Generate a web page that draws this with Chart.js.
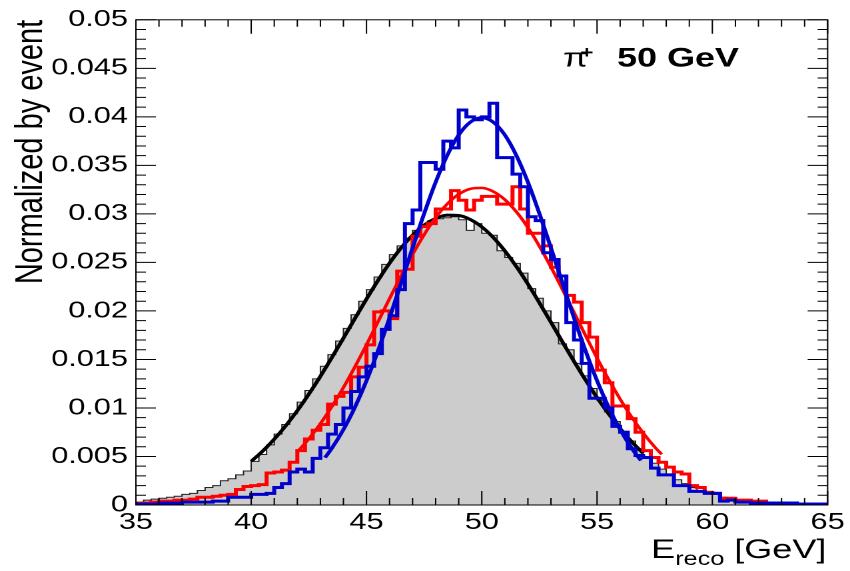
<!DOCTYPE html>
<html lang="en">
<head>
<meta charset="UTF-8">
<title>E reco - pi+ 50 GeV</title>
<script src="https://cdn.jsdelivr.net/npm/chart.js"></script>
<style>
  html, body { margin: 0; padding: 0; background: #fff; overflow: hidden; }
  /* the original picture is stretched sideways, so draw narrow and widen it */
  #wrap { width: 638px; height: 571px; transform: scaleX(1.3323); transform-origin: 0 0; }
</style>
</head>
<body>
<div id="wrap"><canvas id="ereco" width="638" height="571"></canvas></div>
<script>
// histogram binning (GeV)
const xMin = 35;
const xMax = 65;
const binWidth = 1 / 3;

// normalized entries per bin, 90 bins from 35 to 65 GeV
const grayValues = [
  0.0003, 0.0005, 0.0006, 0.0007, 0.0008, 0.0009, 0.0011, 0.0012, 0.0015, 0.0018,
  0.0020, 0.0025, 0.0027, 0.0031, 0.0035, 0.0045, 0.0052, 0.0062, 0.0073, 0.0083,
  0.0094, 0.0106, 0.0118, 0.0130, 0.0143, 0.0155, 0.0169, 0.0182, 0.0196, 0.0210,
  0.0222, 0.0235, 0.0248, 0.0258, 0.0267, 0.0275, 0.0283, 0.0289, 0.0293, 0.0295,
  0.0296, 0.0297, 0.0294, 0.0283, 0.0290, 0.0280, 0.0278, 0.0262, 0.0255, 0.0249,
  0.0239, 0.0223, 0.0213, 0.0200, 0.0188, 0.0166, 0.0160, 0.0146, 0.0133, 0.0120,
  0.0108, 0.0096, 0.0086, 0.0076, 0.0066, 0.0058, 0.0050, 0.0043, 0.0037, 0.0031,
  0.0026, 0.0022, 0.0018, 0.0015, 0.0014, 0.0011, 0.0008, 0.0006, 0.0005, 0.0004,
  0.0004, 0.0003, 0.0003, 0.0002, 0.0002, 0.0002, 0.0001, 0.0001, 0.0001, 0.0001
];
const redValues = [
  0.0002, 0.0002, 0.0003, 0.0004, 0.0004, 0.0005, 0.0005, 0.0006, 0.0008, 0.0008,
  0.0009, 0.0010, 0.0011, 0.0016, 0.0019, 0.0020, 0.0021, 0.0033, 0.0034, 0.0036,
  0.0044, 0.0056, 0.0068, 0.0077, 0.0083, 0.0104, 0.0112, 0.0116, 0.0132, 0.0142,
  0.0165, 0.0199, 0.0200, 0.0192, 0.0241, 0.0243, 0.0277, 0.0287, 0.0290, 0.0305,
  0.0305, 0.0324, 0.0314, 0.0304, 0.0314, 0.0318, 0.0318, 0.0310, 0.0310, 0.0328,
  0.0305, 0.0280, 0.0280, 0.0267, 0.0245, 0.0236, 0.0216, 0.0209, 0.0188, 0.0173,
  0.0139, 0.0126, 0.0102, 0.0102, 0.0089, 0.0075, 0.0056, 0.0049, 0.0044, 0.0039,
  0.0034, 0.0032, 0.0020, 0.0018, 0.0013, 0.0012, 0.0007, 0.0007, 0.0005, 0.0005,
  0.0004, 0.0004, 0.0002, 0.0002, 0.0002, 0.0002, 0.0001, 0.0001, 0.0001, 0.0001
];
const blueValues = [
  0.0001, 0.0001, 0.0001, 0.0002, 0.0002, 0.0002, 0.0003, 0.0003, 0.0003, 0.0003,
  0.0004, 0.0004, 0.0008, 0.0008, 0.0008, 0.0011, 0.0011, 0.0012, 0.0018, 0.0022,
  0.0034, 0.0037, 0.0034, 0.0048, 0.0059, 0.0073, 0.0083, 0.0100, 0.0117, 0.0132,
  0.0143, 0.0156, 0.0181, 0.0195, 0.0222, 0.0290, 0.0304, 0.0353, 0.0353, 0.0346,
  0.0375, 0.0368, 0.0407, 0.0400, 0.0397, 0.0400, 0.0414, 0.0358, 0.0358, 0.0341,
  0.0328, 0.0297, 0.0293, 0.0260, 0.0253, 0.0236, 0.0188, 0.0170, 0.0146, 0.0110,
  0.0110, 0.0100, 0.0081, 0.0075, 0.0058, 0.0051, 0.0049, 0.0038, 0.0031, 0.0031,
  0.0020, 0.0020, 0.0014, 0.0014, 0.0012, 0.0012, 0.0004, 0.0005, 0.0003, 0.0003,
  0.0002, 0.0002, 0.0002, 0.0002, 0.0002, 0.0002, 0.0001, 0.0001, 0.0001, 0.0001
];

// fitted curves
const blackFitX = [40, 40.5, 41, 41.5, 42, 42.5, 43, 43.5, 44, 44.5, 45, 45.5, 46, 46.5, 47, 47.5, 48, 48.5,
  49, 49.5, 50, 50.5, 51, 51.5, 52, 52.5, 53, 53.5, 54, 54.5, 55, 55.5, 56, 56.5, 57];
const blackFitY = [0.0045, 0.00556, 0.00678, 0.00817, 0.00972, 0.01143, 0.01326, 0.0152, 0.0172, 0.01923,
  0.02123, 0.02314, 0.02492, 0.02649, 0.02781, 0.02884, 0.02953, 0.02987, 0.02983, 0.02942,
  0.02866, 0.02757, 0.02619, 0.02457, 0.02277, 0.02083, 0.01883, 0.0168, 0.0148, 0.01288,
  0.01107, 0.0094, 0.00788, 0.00652, 0.00533];
const redFitX = [42, 42.5, 43, 43.5, 44, 44.5, 45, 45.5, 46, 46.5, 47, 47.5, 48, 48.5, 49, 49.5, 50, 50.5,
  51, 51.5, 52, 52.5, 53, 53.5, 54, 54.5, 55, 55.5, 56, 56.5, 57, 57.5, 57.8];
const redFitY = [0.00547, 0.00682, 0.00838, 0.01014, 0.01211, 0.01425, 0.01652, 0.01888, 0.02127, 0.02361,
  0.02583, 0.02786, 0.02961, 0.03102, 0.03202, 0.03258, 0.03268, 0.0323, 0.03147, 0.03021,
  0.02859, 0.02667, 0.02452, 0.02221, 0.01984, 0.01746, 0.01514, 0.01294, 0.01091, 0.00906,
  0.00742, 0.00598, 0.00522];
const blueFitX = [43.2, 43.5, 44, 44.5, 45, 45.5, 46, 46.5, 47, 47.5, 48, 48.5, 49, 49.5, 50, 50.5, 51,
  51.5, 52, 52.5, 53, 53.5, 54, 54.5, 55, 55.5, 56, 56.5, 56.9];
const blueFitY = [0.00488, 0.00585, 0.00777, 0.01009, 0.01281, 0.01589, 0.01928, 0.02286, 0.0265, 0.03003,
  0.03327, 0.03602, 0.03813, 0.03945, 0.0399, 0.03945, 0.03813, 0.03602, 0.03327, 0.03003,
  0.0265, 0.02286, 0.01928, 0.01589, 0.01281, 0.01009, 0.00777, 0.00585, 0.00458];

// axis ticks
const xTickStep = 5;
const yTickStep = 0.005;

const fontFamily = '"Liberation Sans", Arial, Helvetica, sans-serif';

// bins -> step line points at the low edges (+ closing point at the top edge)
function histPoints(vals) {
    var pts = vals.map(function(v, i) { return { x: xMin + i * binWidth, y: v }; });
    pts.push({ x: xMax, y: vals[vals.length - 1] });
    return pts;
}

function curvePoints(xs, ys) {
    return xs.map(function(x, i) { return { x: x, y: ys[i] }; });
}

// ROOT style frame: box, ticks inside on all four sides, titles
var rootFrame = {
    id: 'rootFrame',
    afterDraw: function(chart) {
        var ctx = chart.ctx;
        var a = chart.chartArea;
        var xs = chart.scales.x, ys = chart.scales.y;
        ctx.save();
        ctx.strokeStyle = '#000';
        ctx.lineWidth = 1;
        ctx.strokeRect(a.left, a.top, a.right - a.left, a.bottom - a.top);

        ctx.beginPath();
        for (var v = xMin; v <= xMax; v += 1) {
            var px = xs.getPixelForValue(v);
            var len = (v % 5 === 0) ? 14 : 7;
            ctx.moveTo(px, a.bottom); ctx.lineTo(px, a.bottom - len);
            ctx.moveTo(px, a.top); ctx.lineTo(px, a.top + len);
        }
        for (var k = 0; k <= 50; k++) {
            var py = ys.getPixelForValue(k * 0.001);
            var l = (k % 5 === 0) ? 15 : 7.5;
            ctx.moveTo(a.left, py); ctx.lineTo(a.left + l, py);
            ctx.moveTo(a.right, py); ctx.lineTo(a.right - l, py);
        }
        ctx.stroke();

        ctx.fillStyle = '#000';
        // y axis title, right aligned to the top of the frame
        ctx.save();
        ctx.translate(31.6, a.top);
        ctx.rotate(-Math.PI / 2);
        ctx.font = '29px ' + fontFamily;
        ctx.textAlign = 'right';
        ctx.textBaseline = 'alphabetic';
        ctx.fillText('Normalized by event', 0, 0);
        ctx.restore();

        // x axis title E_reco [GeV], right aligned to the frame
        ctx.textAlign = 'left';
        ctx.textBaseline = 'alphabetic';
        var big = '27px ' + fontFamily, small = '19px ' + fontFamily;
        ctx.font = big;
        var wE = ctx.measureText('E').width;
        var wG = ctx.measureText(' [GeV]').width;
        ctx.font = small;
        var wR = ctx.measureText('reco').width;
        var x0 = a.right - 1 - (wE + wR + wG);
        ctx.font = big;
        ctx.fillText('E', x0, 558);
        ctx.font = small;
        ctx.fillText('reco', x0 + wE, 565);
        ctx.font = big;
        ctx.fillText(' [GeV]', x0 + wE + wR, 558);

        // pi+ 50 GeV label
        ctx.font = '27px ' + fontFamily;
        ctx.fillText('\u03c0', 422.6, 66.7);
        ctx.font = 'bold 17px ' + fontFamily;
        ctx.fillText('+', 435.5, 58);
        ctx.font = 'bold 27px ' + fontFamily;
        ctx.fillText('50 GeV', 463.1, 66.7);
        ctx.restore();
    }
};

var ctx = document.getElementById('ereco').getContext('2d');
var chart = new Chart(ctx, {
    type: 'line',
    data: {
        datasets: [
            {
                label: 'blue fit', data: curvePoints(blueFitX, blueFitY),
                borderColor: '#0000cc', borderWidth: 3, cubicInterpolationMode: 'monotone',
                fill: false, order: 1
            },
            {
                label: 'blue', data: histPoints(blueValues),
                borderColor: '#0000cc', borderWidth: 3, stepped: 'before',
                fill: false, order: 2
            },
            {
                label: 'red fit', data: curvePoints(redFitX, redFitY),
                borderColor: '#ff0000', borderWidth: 2.6, cubicInterpolationMode: 'monotone',
                fill: false, order: 3
            },
            {
                label: 'red', data: histPoints(redValues),
                borderColor: '#ff0000', borderWidth: 3, stepped: 'before',
                fill: false, order: 4
            },
            {
                label: 'black fit', data: curvePoints(blackFitX, blackFitY),
                borderColor: '#000000', borderWidth: 3, cubicInterpolationMode: 'monotone',
                fill: false, order: 5
            },
            {
                label: 'gray', data: histPoints(grayValues),
                borderColor: '#222222', borderWidth: 1, stepped: 'before',
                backgroundColor: '#cccccc', fill: 'origin', order: 6
            }
        ]
    },
    options: {
        responsive: false,
        animation: false,
        devicePixelRatio: 2,
        layout: { padding: { top: 14, right: 13.5, left: 0, bottom: 0 } },
        elements: { point: { radius: 0 } },
        plugins: {
            legend: { display: false },
            tooltip: { enabled: false }
        },
        scales: {
            x: {
                type: 'linear', min: xMin, max: xMax,
                grid: { display: false, drawTicks: false },
                border: { display: false },
                ticks: {
                    stepSize: xTickStep, autoSkip: false, maxRotation: 0, padding: 4,
                    color: '#000', font: { family: fontFamily, size: 23 }
                },
                afterFit: function(scale) { scale.height = 66; }
            },
            y: {
                min: 0, max: 0.05,
                grid: { display: false, drawTicks: false },
                border: { display: false },
                ticks: {
                    stepSize: yTickStep, autoSkip: false, padding: 6,
                    color: '#000', font: { family: fontFamily, size: 23 },
                    callback: function(v) { return String(+v.toFixed(4)); }
                },
                afterFit: function(scale) { scale.width = 102; }
            }
        }
    },
    plugins: [rootFrame]
});
</script>
</body>
</html>
